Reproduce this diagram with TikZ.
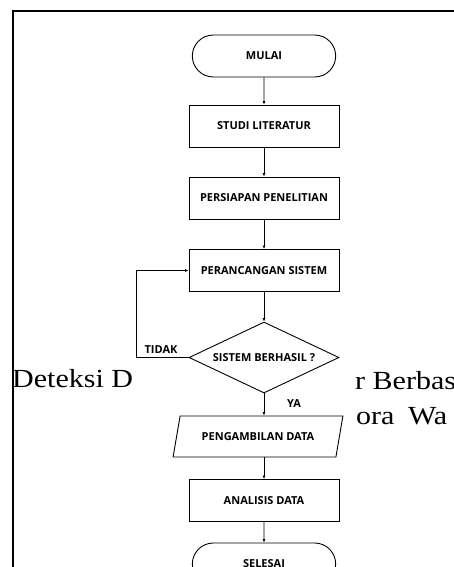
\documentclass[tikz,border=0pt]{standalone}
\usepackage{fontspec}
\setmainfont{Liberation Serif}
\setsansfont{Open Sans}
\usepackage{tikz}
\usetikzlibrary{shapes,positioning,calc}
\usetikzlibrary{shapes.geometric, arrows}
\usetikzlibrary{arrows.meta}
\newcommand{\hurufbagan}{\sffamily\bfseries\fontsize{11}{13}\selectfont}
\newcommand{\hurufhalaman}{\fontsize{30}{34}\selectfont}
\tikzstyle{terminal} = [rounded rectangle, 
minimum width=150pt, minimum height=42pt, text centered, draw=black, line width=0.9pt, font=\hurufbagan]
\tikzstyle{proses} = [rectangle, 
minimum width=150pt, minimum height=42pt, text centered, draw=black, line width=0.9pt, font=\hurufbagan]
\tikzstyle{keputusan} = [diamond, aspect=2.1, inner sep=0pt,
minimum width=150pt, minimum height=71pt, text centered, draw=black, line width=0.9pt, font=\hurufbagan]
\tikzstyle{masukan} = [trapezium, trapezium left angle=70, trapezium right angle=110, trapezium stretches=true,
minimum width=170pt, minimum height=41pt, text centered, draw=black, line width=0.9pt, font=\hurufbagan]
\tikzstyle{arrow} = [line width=0.7pt,-{Latex[length=3.5pt,width=3pt]}]

\begin{document}
\begin{tikzpicture}[x=1pt,y=-1pt]
	\useasboundingbox (0,0) rectangle (454,567);
	\clip (0,0) rectangle (454,567);
	% teks halaman di belakang gambar
	\node[anchor=base west, inner sep=0pt] (tkiri) at (12,387) {\hurufhalaman\scalebox{1}[0.87]{Deteksi D}};
	\node[anchor=base west, inner sep=0pt] (tkanan) at (355,389) {\hurufhalaman\scalebox{1}[0.87]{r Berbas}};
	\node[anchor=base west, inner sep=0pt] (tkanan2) at (356,424) {\hurufhalaman\scalebox{1}[0.87]{ora\hspace{6pt} Wa}};
	% bingkai
	\draw[line width=1.8pt] (13,580) -- (13,11) -- (470,11);
	% bagan alir
	\node (mulai) at (264,56) [terminal] {MULAI};
	\node (studi) at (264,126) [proses] {STUDI LITERATUR};
	\node (siap) at (264,198) [proses] {PERSIAPAN PENELITIAN};
	\node (ranc) at (264,270.5) [proses] {PERANCANGAN SISTEM};
	\node (cek) at (264,357.5) [keputusan] {SISTEM BERHASIL ?};
	\node (ambil) at (258,436.5) [masukan] {PENGAMBILAN DATA};
	\node (analisis) at (264,500.5) [proses] {ANALISIS DATA};
	\node (selesai) at (264,564) [terminal] {SELESAI};
	\coordinate (kiri) at (136,357.5);
	\draw[arrow] (mulai) -- (studi);
	\draw[arrow] (studi) -- (siap);
	\draw[arrow] (siap) -- (ranc);
	\draw[arrow] (ranc) -- (cek);
	\draw[arrow] (cek.south) -- (cek.south |- ambil.north);
	\draw[arrow] (analisis.north |- ambil.south) -- (analisis.north);
	\draw[arrow] (analisis) -- (selesai);
	\draw[arrow] (cek.west) -- (kiri) |- (ranc.west);
	\node[font=\hurufbagan] (tidak) at (161,350) {TIDAK};
	\node[font=\hurufbagan] (ya) at (294,404) {YA};
\end{tikzpicture}
\end{document}
